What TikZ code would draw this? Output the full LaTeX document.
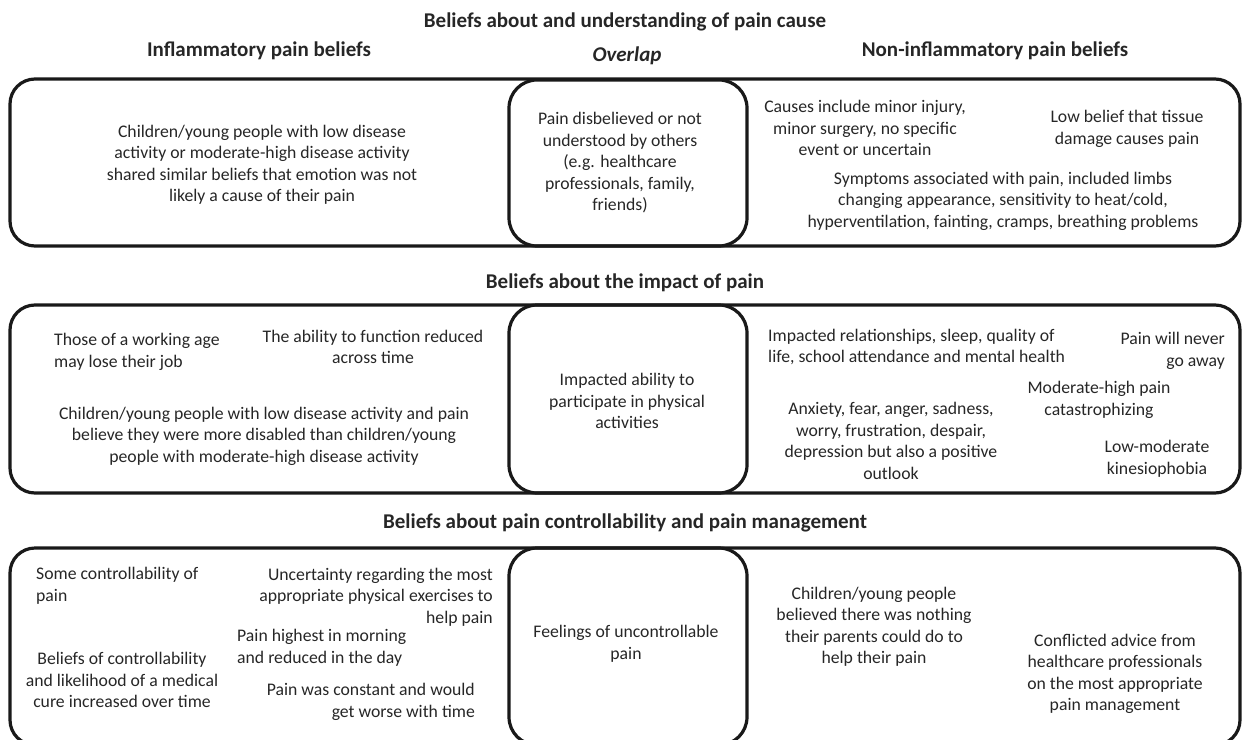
\documentclass[tikz,border=0pt]{standalone}
\usepackage{fontspec}
\setmainfont{Carlito}
\begin{document}
\begin{tikzpicture}[x=1pt,y=-1pt,
  outerbox/.style={draw=black!90, line width=3.2pt, rounded corners=25pt, inner sep=0pt},
  midbox/.style={draw=black!90, line width=3.2pt, rounded corners=28pt, inner sep=0pt, minimum width=238pt},
  title/.style={font=\fontsize{21}{24}\selectfont\bfseries, inner sep=0pt, text=black!85},
  txt/.style={font=\fontsize{17.7}{21.5}\selectfont, align=center, inner sep=0pt, text=black!85},
  txtl/.style={txt, align=left},
  txtr/.style={txt, align=right}]
\useasboundingbox (0,0) rectangle (1245,739);
\clip (0,0) rectangle (1245,739);

% titles
\node[title] (t1) at (625,22) {Beliefs about and understanding of pain cause};
\node[title] (t1a) at (259,51) {Inflammatory pain beliefs};
\node[title] (t1b) at (627,56) {\itshape Overlap};
\node[title] (t1c) at (995,51) {Non-inflammatory pain beliefs};
\node[title] (t2) at (625,283) {Beliefs about the impact of pain};
\node[title] (t3) at (625,523) {Beliefs about pain controllability and pain management};

% boxes
\node[outerbox, minimum width=1230pt, minimum height=167pt] (r1) at (625,162.5) {};
\node[midbox, minimum height=166pt] (m1) at (628,163) {};
\node[outerbox, minimum width=1230pt, minimum height=188pt] (r2) at (625,399) {};
\node[midbox, minimum height=188pt] (m2) at (628,399) {};
\node[outerbox, minimum width=1230pt, minimum height=197pt] (r3) at (625,646.5) {};
\node[midbox, minimum height=197pt] (m3) at (628,646.5) {};

% row 1
\node[txt] (a1) at (262,165) {Children/young people with low disease\\activity or moderate-high disease activity\\shared similar beliefs that emotion was not\\likely a cause of their pain};
\node[txt] (a2) at (620,163) {Pain disbelieved or not\\understood by others\\(e.g. healthcare\\professionals, family,\\friends)};
\node[txt] (a3) at (865,128) {Causes include minor injury,\\minor surgery, no specific\\event or uncertain};
\node[txt] (a4) at (1127,129) {Low belief that tissue\\damage causes pain};
\node[txt] (a5) at (1003,201) {Symptoms associated with pain, included limbs\\changing appearance, sensitivity to heat/cold,\\hyperventilation, fainting, cramps, breathing problems};

% row 2
\node[txtl, anchor=west] (b1) at (54,352) {Those of a working age\\may lose their job};
\node[txt] (b2) at (373,347) {The ability to function reduced\\across time};
\node[txt] (b3) at (264,436) {Children/young people with low disease activity and pain\\believe they were more disabled than children/young\\people with moderate-high disease activity};
\node[txt] (b4) at (627,401) {Impacted ability to\\participate in physical\\activities};
\node[txtl, anchor=west] (b5) at (768,347) {Impacted relationships, sleep, quality of\\life, school attendance and mental health};
\node[txtr, anchor=east] (b6) at (1225,351) {Pain will never\\go away};
\node[txt] (b7) at (1099,400) {Moderate-high pain\\catastrophizing};
\node[txt] (b8) at (891,441) {Anxiety, fear, anger, sadness,\\worry, frustration, despair,\\depression but also a positive\\outlook};
\node[txt] (b9) at (1157,459) {Low-moderate\\kinesiophobia};

% row 3
\node[txtl, anchor=west] (c1) at (36,586) {Some controllability of\\pain};
\node[txtr, anchor=east] (c2) at (493,597) {Uncertainty regarding the most\\appropriate physical exercises to\\help pain};
\node[txtl, anchor=west] (c3) at (237,648) {Pain highest in morning\\and reduced in the day};
\node[txt] (c4) at (122,680) {Beliefs of controllability\\and likelihood of a medical\\cure increased over time};
\node[txtr, anchor=east] (c5) at (475,702) {Pain was constant and would\\get worse with time};
\node[txt] (c6) at (626,644) {Feelings of uncontrollable\\pain};
\node[txt] (c7) at (874,627) {Children/young people\\believed there was nothing\\their parents could do to\\help their pain};
\node[txt] (c8) at (1115,674) {Conflicted advice from\\healthcare professionals\\on the most appropriate\\pain management};
\end{tikzpicture}
\end{document}
